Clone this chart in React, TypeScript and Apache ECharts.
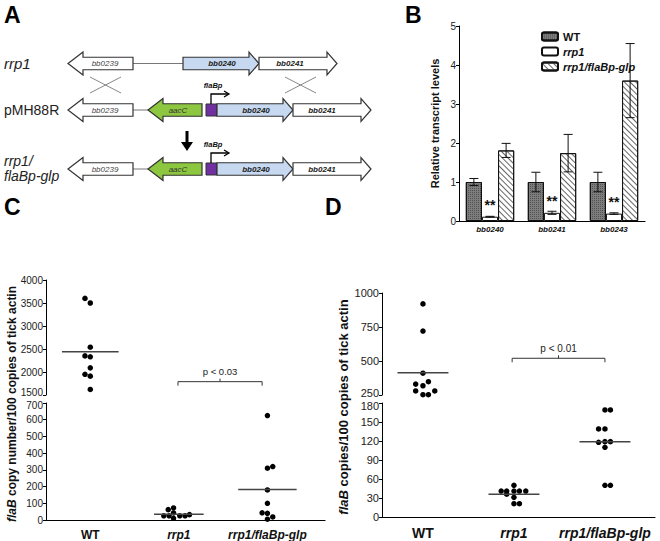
import React, { useEffect, useRef } from 'react';
import * as echarts from 'echarts';

// ---------- Panel B data ----------
const bGenes = ['bb0240', 'bb0241', 'bb0243'];
const bNames = ['WT', 'rrp1', 'rrp1/flaBp-glp'];
const bWT = [1.0, 1.0, 1.0];
const bWTErr = [0.09, 0.25, 0.25];
const bRrp1 = [0.11, 0.21, 0.19];
const bRrp1Err = [0.01, 0.04, 0.02];
const bGlp = [1.81, 1.74, 3.6];
const bGlpErr = [0.18, 0.48, 0.95];
const bStars = ['**', '**', '**'];

// ---------- Panels C / D data ----------
const groups = ['WT', 'rrp1', 'rrp1/flaBp-glp'];

const cWT = [3600, 3500, 2540, 2350, 2330, 2090, 1950, 1910, 1620];
const cWTJitter = [-0.06, 0, 0, -0.06, 0, 0, -0.06, 0, 0];
const cRrp1 = [62, 72, 25, 25, 42, 25, 25, 32, 10];
const cRrp1Jitter = [-0.12, -0.06, -0.17, -0.11, -0.06, 0.01, 0.07, 0.12, -0.06];
const cGlp = [625, 310, 320, 180, 100, 43, 40, 18, 5];
const cGlpJitter = [0, 0, 0.06, 0, 0, -0.06, 0, 0.06, 0];
const cMeans = [2440, 35, 182];
const cP = ['p < 0.03'];

const dWT = [920, 720, 410, 330, 318, 348, 280, 252, 252, 280];
const dWTJitter = [0, 0, 0, -0.08, 0, 0.06, -0.08, 0, 0.06, 0.13];
const dRrp1 = [50, 41, 41, 41, 41, 41, 36, 31, 21, 21];
const dRrp1Jitter = [0, -0.14, -0.08, 0, 0.06, 0.13, -0.08, 0, 0, 0.06];
const dGlp = [169, 169, 139, 139, 118, 119, 119, 110, 50, 50];
const dGlpJitter = [0, 0.06, -0.07, 0, -0.07, 0, 0.06, 0, 0, 0.06];
const dMeans = [414, 36, 119];
const dP = ['p < 0.01'];

const FF = 'Arial, "Liberation Sans", Helvetica, sans-serif';

function arrowPts(tail: number, tip: number, cy: number, hl: number, bh = 12.5, hh = 23) {
  const d = tip > tail ? 1 : -1;
  const base = tip - d * hl;
  return [
    [tail, cy - bh / 2], [base, cy - bh / 2], [base, cy - hh / 2], [tip, cy],
    [base, cy + hh / 2], [base, cy + bh / 2], [tail, cy + bh / 2],
  ];
}

function arrow(tail: number, tip: number, cy: number, fill: string) {
  const hl = tip > tail ? 10 : 15;
  return {
    type: 'polygon',
    shape: { points: arrowPts(tail, tip, cy, hl) },
    style: { fill, stroke: '#333', lineWidth: 1.2 },
  };
}

function label(text: string, x: number, y: number, font: string, fill = '#222', align = 'center') {
  return {
    type: 'text',
    style: { text, x, y, font, fill, textAlign: align, textVerticalAlign: 'middle' },
  };
}

function hline(x1: number, x2: number, y: number, color = '#777', w = 1) {
  return { type: 'line', shape: { x1, y1: y, x2, y2: y }, style: { stroke: color, lineWidth: w } };
}

function cross(x1: number, x2: number, y1: number, y2: number) {
  return [
    { type: 'line', shape: { x1, y1, x2, y2 }, style: { stroke: '#888', lineWidth: 1 } },
    { type: 'line', shape: { x1, y1: y2, x2, y2: y1 }, style: { stroke: '#888', lineWidth: 1 } },
  ];
}

function promoter(cy: number) {
  const top = cy - 6;
  const y = cy - 16;
  return [
    { type: 'polyline', shape: { points: [[211, top], [211, y], [228, y]] }, style: { stroke: '#000', lineWidth: 1.3, fill: null } },
    { type: 'polyline', shape: { points: [[224, y - 3], [229, y], [224, y + 3]] }, style: { stroke: '#000', lineWidth: 1.3, fill: null } },
    label('flaBp', 213, y - 9, 'italic bold 7.5px ' + FF, '#111'),
  ];
}

function constructRow(cy: number) {
  return [
    hline(133, 202, cy),
    arrow(133, 68, cy, '#ffffff'),
    arrow(202, 148, cy, '#8dc63f'),
    { type: 'rect', shape: { x: 206, y: cy - 6, width: 11, height: 12 }, style: { fill: '#7030a0', stroke: '#333', lineWidth: 1 } },
    arrow(217, 293, cy, '#c6d9f1'),
    arrow(293, 371, cy, '#ffffff'),
    label('bb0239', 105, cy, 'italic 8px ' + FF, '#444'),
    label('aacC', 178, cy, 'italic 8px ' + FF, '#333'),
    label('bb0240', 256, cy, 'italic bold 8px ' + FF, '#222'),
    label('bb0241', 322, cy, 'italic bold 8px ' + FF, '#222'),
    ...promoter(cy),
  ];
}

function yTitle(x: number, y: number, italicPart: string, rest: string, size: number) {
  return {
    type: 'text',
    x, y, rotation: Math.PI / 2,
    style: {
      text: `{i|${italicPart}}{n|${rest}}`,
      x: 0, y: 0, textAlign: 'center', textVerticalAlign: 'middle',
      fontSize: size, fontWeight: 'bold', fontFamily: FF, fill: '#111',
      rich: {
        i: { fontStyle: 'italic', fontWeight: 'bold', fontSize: size, fontFamily: FF, fill: '#111' },
        n: { fontWeight: 'bold', fontSize: size, fontFamily: FF, fill: '#111' },
      },
    },
  };
}

function groupLabelFormatter(v: number) {
  const r = Math.round(v);
  if (Math.abs(v - r) > 1e-6 || r < 1 || r > 3) return '';
  const name = groups[r - 1];
  return name === 'WT' ? `{b|${name}}` : `{bi|${name}}`;
}

function bracketSeries(xi: number, yi: number, x1: number, x2: number, y: number, text: string, size: number) {
  return {
    type: 'custom', xAxisIndex: xi, yAxisIndex: yi, clip: false,
    data: [[x1, x2, y]],
    renderItem: (params: any, api: any) => {
      const p1 = api.coord([api.value(0), api.value(2)]);
      const p2 = api.coord([api.value(1), api.value(2)]);
      const mx = (p1[0] + p2[0]) / 2;
      return {
        type: 'group',
        children: [
          { type: 'polyline', shape: { points: [[p1[0], p1[1] + 4], [p1[0], p1[1]], [p2[0], p2[1]], [p2[0], p2[1] + 4]] }, style: { stroke: '#333', lineWidth: 1, fill: null } },
          { type: 'line', shape: { x1: mx, y1: p1[1], x2: mx, y2: p1[1] - 3 }, style: { stroke: '#333', lineWidth: 1 } },
          { type: 'text', style: { text, x: mx, y: p1[1] - 5, textAlign: 'center', textVerticalAlign: 'bottom', font: `${size}px ${FF}`, fill: '#222' } },
        ],
      };
    },
  };
}

function scatter(xi: number, yi: number, cat: number, vals: number[], jit: number[]) {
  return {
    type: 'scatter', xAxisIndex: xi, yAxisIndex: yi, symbolSize: 5.5,
    itemStyle: { color: '#000', opacity: 1 },
    data: vals.map((v, i) => [cat + jit[i], v]),
  };
}

function meanLine(xi: number, yi: number, cat: number, m: number, hw: number) {
  return {
    type: 'line', xAxisIndex: xi, yAxisIndex: yi, symbol: 'none',
    lineStyle: { color: '#444', width: 1.5 },
    data: [[cat - hw, m], [cat + hw, m]],
  };
}

// which: 'upper' pushes the minimum label up a little; 'lower' pushes the max label down
const valueYAxis = (gi: number, min: number, max: number, interval: number, fs: number, which = '') => ({
  type: 'value', gridIndex: gi, min, max, interval,
  axisLine: { show: true, lineStyle: { color: '#000', width: 1 } },
  axisTick: { show: true, length: 3, lineStyle: { color: '#000' } },
  splitLine: { show: false },
  axisLabel: {
    fontSize: fs, color: '#222', margin: 3, fontFamily: FF,
    formatter: (v: number) => {
      if (which === 'upper' && v === min) return `{up|${v}}`;
      if (which === 'lower' && v === max) return `{dn|${v}}`;
      return String(v);
    },
    rich: {
      up: { fontSize: fs, fontFamily: FF, color: '#222', padding: [0, 0, 5, 0] },
      dn: { fontSize: fs, fontFamily: FF, color: '#222', padding: [5, 0, 0, 0] },
    },
  },
});

export default function App() {
  const ref = useRef<HTMLDivElement>(null);
  useEffect(() => {
    if (!ref.current) return;
    const chart = echarts.init(ref.current, undefined, { renderer: 'svg' });

    const errData = [
      ...bGenes.map((_, i) => [i, bWT[i], bWTErr[i], 0]),
      ...bGenes.map((_, i) => [i, bRrp1[i], bRrp1Err[i], 1]),
      ...bGenes.map((_, i) => [i, bGlp[i], bGlpErr[i], 2]),
    ];
    const gapRatio = 0.22;

    const catLabelRich = (fs: number) => ({
      b: { fontWeight: 'bold', fontSize: fs, fontFamily: FF, color: '#111' },
      bi: { fontWeight: 'bold', fontStyle: 'italic', fontSize: fs, fontFamily: FF, color: '#111' },
    });

    const graphic: any[] = [
      // panel letters
      label('A', 4, 15, 'bold 23px ' + FF, '#000', 'left'),
      label('B', 405, 15, 'bold 23px ' + FF, '#000', 'left'),
      label('C', 4, 207, 'bold 23px ' + FF, '#000', 'left'),
      label('D', 325, 207, 'bold 23px ' + FF, '#000', 'left'),
      // row labels
      label('rrp1', 4, 63, 'italic 15px ' + FF, '#222', 'left'),
      label('pMH88R', 4, 110, '14px ' + FF, '#222', 'left'),
      label('rrp1/', 4, 161, 'italic 14px ' + FF, '#222', 'left'),
      label('flaBp-glp', 4, 176, 'italic 14px ' + FF, '#222', 'left'),
      // row 1
      hline(133, 183, 63.5),
      arrow(133, 68, 63.5, '#ffffff'),
      arrow(183, 259, 63.5, '#c6d9f1'),
      arrow(259, 337, 63.5, '#ffffff'),
      label('bb0239', 105, 63.5, 'italic 8px ' + FF, '#444'),
      label('bb0240', 222, 63.5, 'italic bold 8px ' + FF, '#222'),
      label('bb0241', 290, 63.5, 'italic bold 8px ' + FF, '#222'),
      ...cross(90, 121, 77, 93),
      ...cross(285, 316, 77, 93),
      // row 2 and 3
      ...constructRow(110),
      ...constructRow(169),
      // down arrow
      { type: 'line', shape: { x1: 187, y1: 131, x2: 187, y2: 143 }, style: { stroke: '#000', lineWidth: 3 } },
      { type: 'polygon', shape: { points: [[181, 142], [193, 142], [187, 151]] }, style: { fill: '#000' } },
      // y titles C/D
      yTitle(12, 404, 'flaB', ' copy number/100 copies of tick actin', 12),
      yTitle(343, 407, 'flaB', ' copies/100 copies of tick actin', 13),
    ];

    const option: any = {
      animation: false,
      textStyle: { fontFamily: FF },
      graphic,
      legend: {
        show: true, orient: 'vertical', left: 536, top: 26,
        itemWidth: 16, itemHeight: 8, itemGap: 4,
        data: bNames,
        formatter: (n: string) => (n === 'WT' ? `{b|${n}}` : `{bi|${n}}`),
        textStyle: { rich: catLabelRich(11) },
      },
      grid: [
        { left: 459, top: 26, width: 186, height: 195 },
        { left: 46, top: 280, width: 279, height: 115 },
        { left: 46, top: 403, width: 279, height: 120 },
        { left: 382, top: 293, width: 273, height: 102 },
        { left: 382, top: 403, width: 273, height: 114 },
      ],
      xAxis: [
        {
          type: 'category', gridIndex: 0, data: bGenes,
          axisLine: { show: true, lineStyle: { color: '#000', width: 1.2 } },
          axisTick: { show: false },
          axisLabel: { fontSize: 8, fontWeight: 'bold', fontStyle: 'italic', color: '#111', margin: 4 },
        },
        { type: 'value', gridIndex: 1, min: 0.5, max: 3.65, interval: 0.5, show: false },
        {
          type: 'value', gridIndex: 2, min: 0.5, max: 3.65, interval: 0.5,
          axisLine: { show: true, onZero: false, lineStyle: { color: '#000', width: 1.2 } },
          axisTick: { show: false }, splitLine: { show: false },
          axisLabel: { formatter: groupLabelFormatter, margin: 9, rich: catLabelRich(12) },
        },
        { type: 'value', gridIndex: 3, min: 0.55, max: 3.55, interval: 0.05, show: false },
        {
          type: 'value', gridIndex: 4, min: 0.55, max: 3.55, interval: 0.05,
          axisLine: { show: true, onZero: false, lineStyle: { color: '#000', width: 1.2 } },
          axisTick: { show: false }, splitLine: { show: false },
          axisLabel: { formatter: groupLabelFormatter, margin: 9, rich: catLabelRich(14) },
        },
      ],
      yAxis: [
        {
          ...valueYAxis(0, 0, 5, 1, 10),
          name: 'Relative transcript levels', nameLocation: 'middle', nameGap: 19,
          nameTextStyle: { fontSize: 11, fontWeight: 'bold', color: '#111', fontFamily: FF },
        },
        valueYAxis(1, 1500, 4000, 500, 10, 'upper'),
        valueYAxis(2, 0, 700, 100, 10, 'lower'),
        valueYAxis(3, 250, 1000, 250, 11, 'upper'),
        valueYAxis(4, 0, 180, 30, 11, 'lower'),
      ],
      series: [
        {
          name: 'WT', type: 'bar', xAxisIndex: 0, yAxisIndex: 0, data: bWT,
          barGap: '0%', barCategoryGap: `${gapRatio * 100}%`,
          itemStyle: {
            color: '#7d7d7d', borderColor: '#111', borderWidth: 1,
            decal: { symbol: 'rect', symbolSize: 1, dashArrayX: [1, 1], dashArrayY: [1, 1], color: 'rgba(30,30,30,0.45)' },
          },
        },
        {
          name: 'rrp1', type: 'bar', xAxisIndex: 0, yAxisIndex: 0, data: bRrp1,
          itemStyle: { color: '#ffffff', borderColor: '#111', borderWidth: 1 },
          label: {
            show: true, position: 'top', distance: 5,
            formatter: (p: any) => bStars[p.dataIndex],
            fontSize: 14, fontWeight: 'bold', color: '#111',
          },
        },
        {
          name: 'rrp1/flaBp-glp', type: 'bar', xAxisIndex: 0, yAxisIndex: 0, data: bGlp,
          itemStyle: {
            color: '#ffffff', borderColor: '#111', borderWidth: 1,
            decal: { symbol: 'rect', symbolSize: 1, dashArrayX: [1, 0], dashArrayY: [1, 2.5], rotation: Math.PI / 4, color: '#666' },
          },
        },
        {
          type: 'custom', xAxisIndex: 0, yAxisIndex: 0, data: errData, z: 5,
          renderItem: (params: any, api: any) => {
            const band = api.size([1, 0])[0];
            const total = band * (1 - gapRatio);
            const bw = total / 3;
            const s = api.value(3);
            const c = api.value(0);
            const v = api.value(1);
            const e = api.value(2);
            const cx = api.coord([c, 0])[0] - total / 2 + (s + 0.5) * bw;
            const top = api.coord([c, v + e])[1];
            const bot = api.coord([c, v - e])[1];
            const cap = 4.5;
            const st = { stroke: '#111', lineWidth: 1 };
            return {
              type: 'group',
              children: [
                { type: 'line', shape: { x1: cx, y1: top, x2: cx, y2: bot }, style: st },
                { type: 'line', shape: { x1: cx - cap, y1: top, x2: cx + cap, y2: top }, style: st },
                { type: 'line', shape: { x1: cx - cap, y1: bot, x2: cx + cap, y2: bot }, style: st },
              ],
            };
          },
        },
        // Panel C
        scatter(1, 1, 1, cWT, cWTJitter),
        scatter(2, 2, 2, cRrp1, cRrp1Jitter),
        scatter(2, 2, 3, cGlp, cGlpJitter),
        meanLine(1, 1, 1, cMeans[0], 0.32),
        meanLine(2, 2, 2, cMeans[1], 0.28),
        meanLine(2, 2, 3, cMeans[2], 0.33),
        bracketSeries(1, 1, 1.99, 2.94, 1790, cP[0], 9.5),
        // Panel D
        scatter(3, 3, 1, dWT, dWTJitter),
        scatter(4, 4, 2, dRrp1, dRrp1Jitter),
        scatter(4, 4, 3, dGlp, dGlpJitter),
        meanLine(3, 3, 1, dMeans[0], 0.28),
        meanLine(4, 4, 2, dMeans[1], 0.28),
        meanLine(4, 4, 3, dMeans[2], 0.28),
        bracketSeries(3, 3, 1.98, 3.0, 520, dP[0], 10),
      ],
    };
    chart.setOption(option);
    return () => chart.dispose();
  }, []);
  return (
    <div
      ref={ref}
      style={{ position: 'absolute', left: 0, top: 0, width: 660, height: 541, background: '#fff' }}
    />
  );
}
